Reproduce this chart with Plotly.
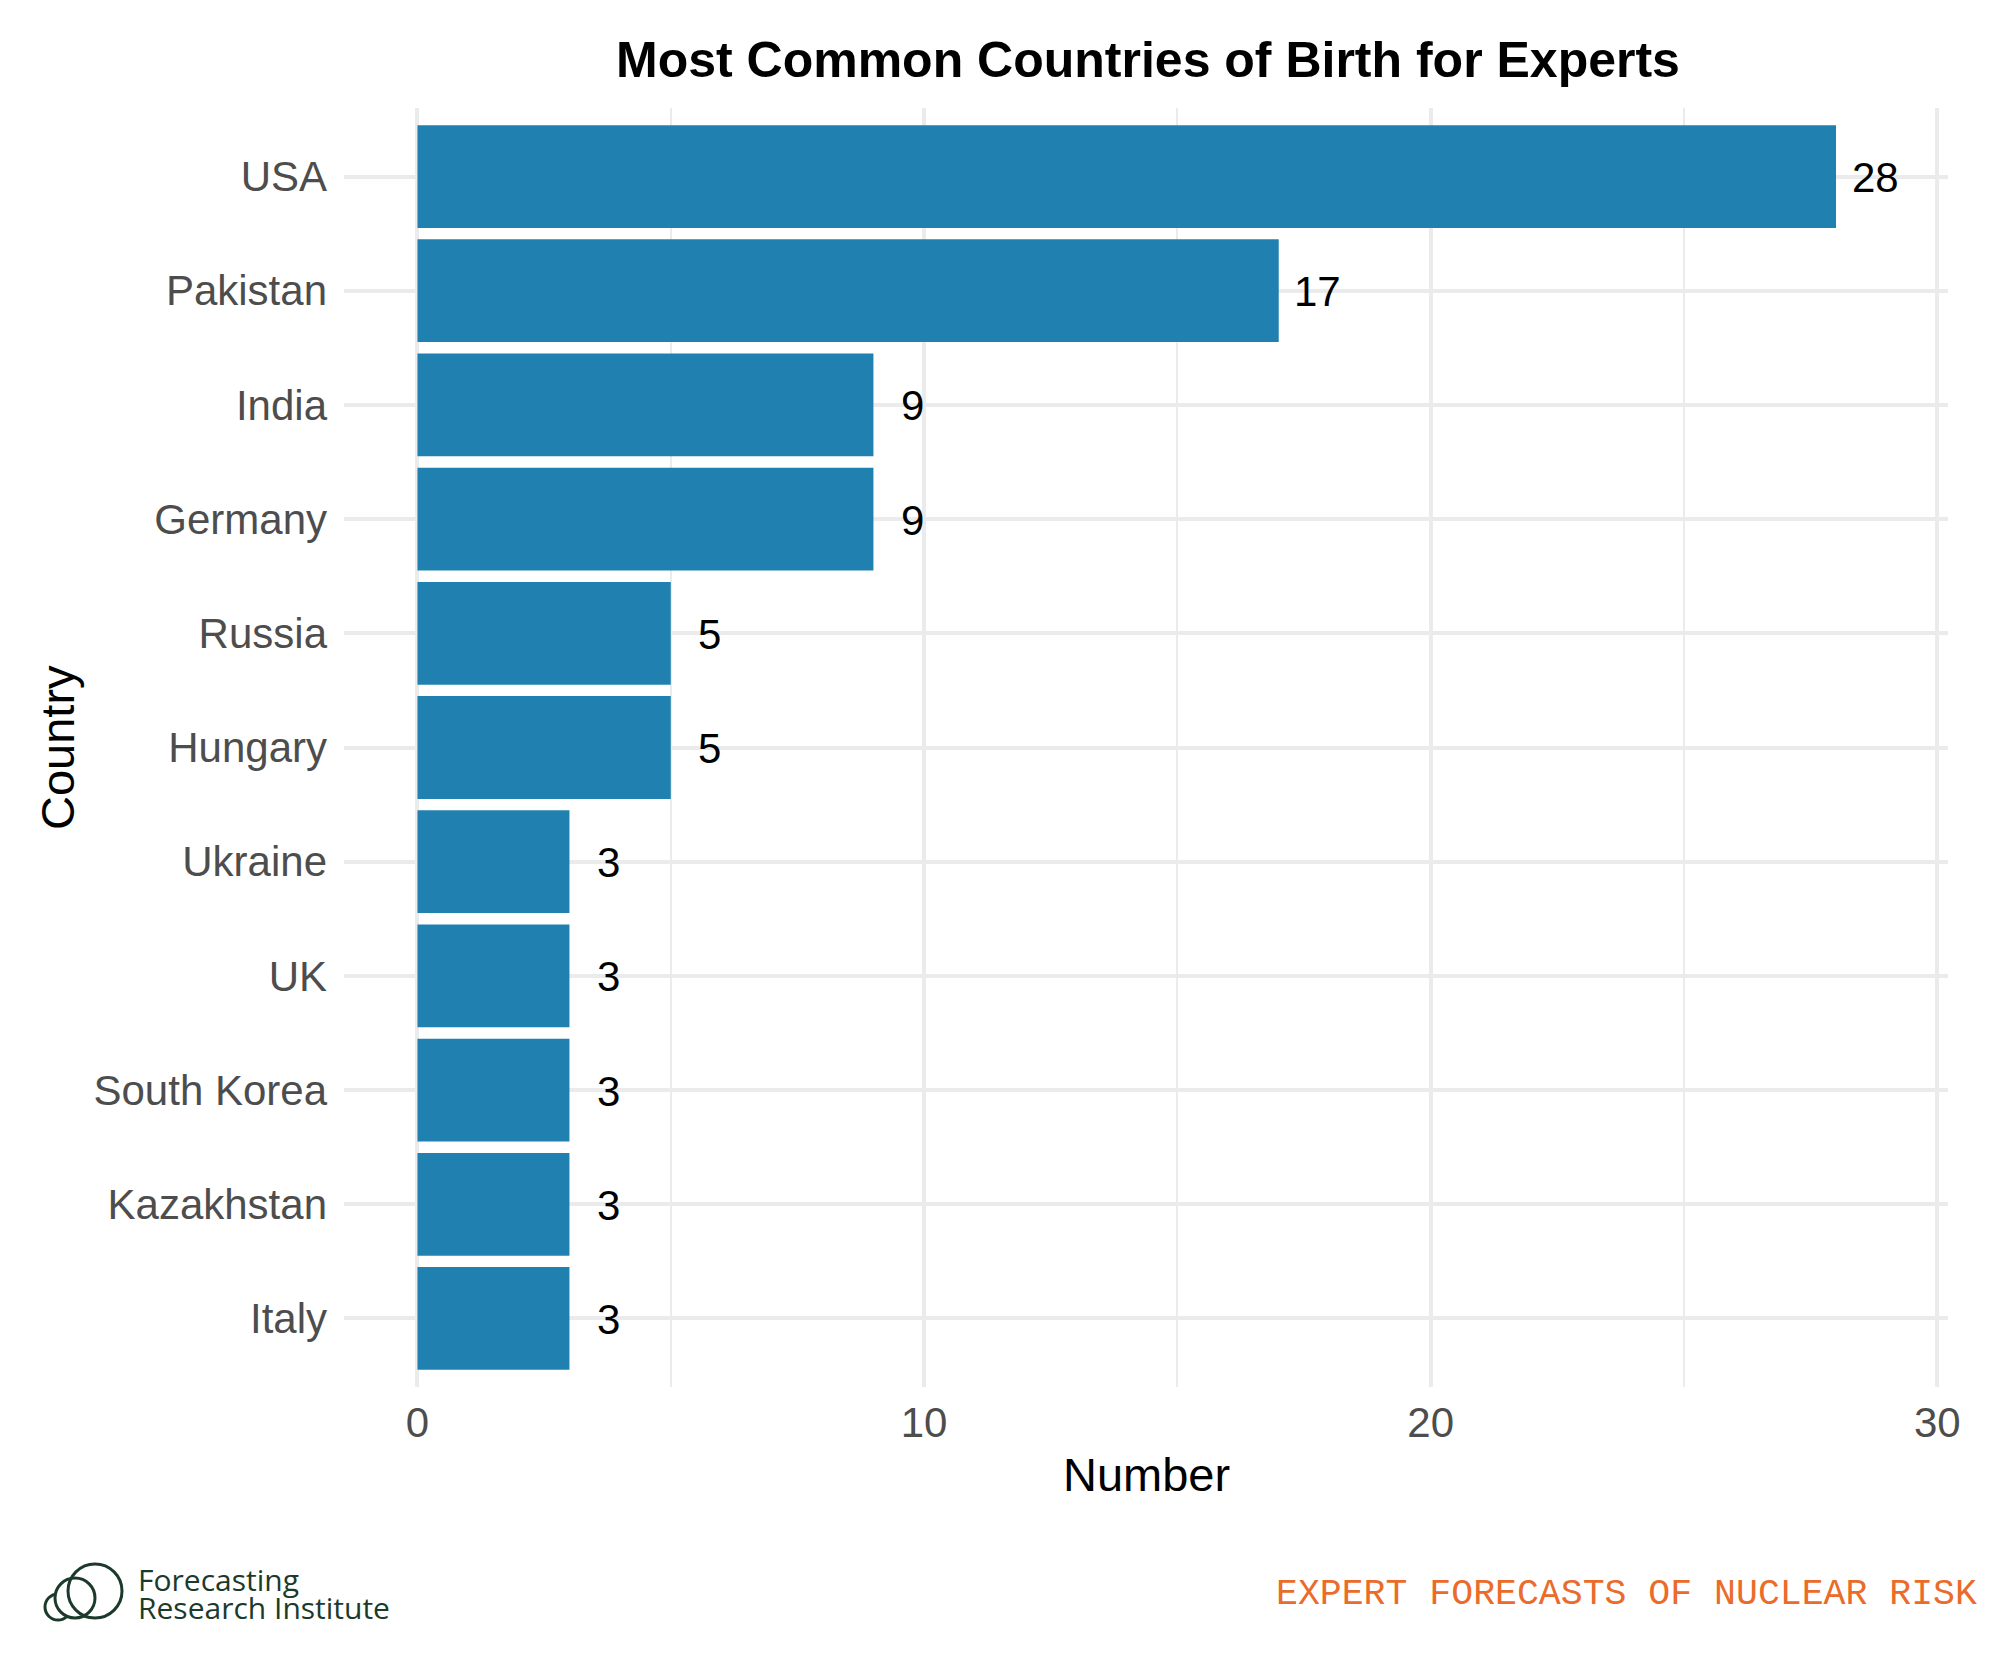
import plotly.graph_objects as go

countries = ["USA", "Pakistan", "India", "Germany", "Russia", "Hungary",
             "Ukraine", "UK", "South Korea", "Kazakhstan", "Italy"]
counts = [28, 17, 9, 9, 5, 5, 3, 3, 3, 3, 3]
x_ticks = [0, 10, 20, 30]

title_text = "Most Common Countries of Birth for Experts"
x_title = "Number"
y_title = "Country"
footer_right = "EXPERT FORECASTS OF NUCLEAR RISK"
logo_line1 = "Forecasting"
logo_line2 = "Research Institute"

W, H = 1999, 1656
L, R, T, B = 344, 1948, 108, 1387  # panel pixel bounds

BAR = "#2081B0"
GRID = "#EBEBEB"
FONT = "Liberation Sans, Arial, Helvetica, sans-serif"
LOGO = "#1B3A2B"
LABEL_OFFSET = 0.77  # label centre offset from bar end, in data units


def px(xpix):
    return (xpix - L) / (R - L)


def py(ypix):
    return (B - ypix) / (B - T)


fig = go.Figure()
fig.add_trace(go.Bar(
    y=countries, x=counts, orientation="h",
    marker=dict(color=BAR, line=dict(width=0)),
    width=0.9, hoverinfo="skip", showlegend=False,
))

annotations = []
for c, v in zip(countries, counts):
    annotations.append(dict(
        text=str(v), xref="x", yref="y", x=v + LABEL_OFFSET, y=c,
        xanchor="center", yanchor="middle", yshift=-1, showarrow=False,
        font=dict(family=FONT, size=42, color="#000000")))

annotations += [
    dict(text=f"<b>{title_text}</b>", xref="paper", yref="paper",
         x=px(1147.5), y=py(60), xanchor="center", yanchor="middle",
         showarrow=False, font=dict(family=FONT, size=50, color="#000000")),
    dict(text=x_title, xref="paper", yref="paper",
         x=px(1146), y=py(1474), xanchor="center", yanchor="middle",
         showarrow=False, font=dict(family=FONT, size=47, color="#000000")),
    dict(text=y_title, xref="paper", yref="paper",
         x=px(57), y=py(748), xanchor="center", yanchor="middle", textangle=-90,
         showarrow=False, font=dict(family=FONT, size=47, color="#000000")),
    dict(text=footer_right, xref="paper", yref="paper",
         x=px(1979), y=py(1594), xanchor="right", yanchor="middle",
         showarrow=False, font=dict(family="Liberation Mono, DejaVu Sans Mono, monospace",
                                    size=36.5, color="#EB6B2A")),
    dict(text=(f'<span style="font-size:30px">{logo_line1}</span><br>'
               f'<span style="font-size:30px">{logo_line2}</span>'),
         xref="paper", yref="paper", align="left",
         x=px(136), y=py(1593), xanchor="left", yanchor="middle",
         showarrow=False, font=dict(family="Open Sans, sans-serif", size=21.5, color=LOGO)),
]

shapes = []
for (cx, cy, r, fill) in [(58, 1607, 13, "rgba(0,0,0,0)"),
                          (75, 1598, 20, "#FFFFFF"),
                          (95, 1591, 27, "rgba(0,0,0,0)")]:
    shapes.append(dict(type="circle", xref="paper", yref="paper",
                       x0=px(cx - r), x1=px(cx + r), y0=py(cy + r), y1=py(cy - r),
                       line=dict(color=LOGO, width=3), fillcolor=fill, layer="above"))

fig.update_layout(
    width=W, height=H,
    margin=dict(l=L, r=W - R, t=T, b=H - B, autoexpand=False),
    paper_bgcolor="#FFFFFF", plot_bgcolor="#FFFFFF",
    font=dict(family=FONT),
    bargap=0.1,
    annotations=annotations,
    shapes=shapes,
    xaxis=dict(
        range=[-1.45, 30.21], tickvals=x_ticks, ticktext=[str(v) for v in x_ticks],
        showgrid=True, gridcolor=GRID, gridwidth=4, zeroline=False,
        showline=False, ticks="", ticklabelstandoff=7,
        tickfont=dict(family=FONT, size=42, color="#4D4D4D"),
        minor=dict(tickvals=[5, 15, 25], showgrid=True, gridcolor=GRID, gridwidth=2),
        fixedrange=True,
    ),
    yaxis=dict(
        type="category", categoryorder="array", categoryarray=list(reversed(countries)),
        range=[-0.6, 10.6], showgrid=True, gridcolor=GRID, gridwidth=4,
        zeroline=False, showline=False, ticks="", ticklabelstandoff=16,
        tickfont=dict(family=FONT, size=42, color="#4D4D4D"),
        fixedrange=True,
    ),
)

fig.write_html("out.html")
